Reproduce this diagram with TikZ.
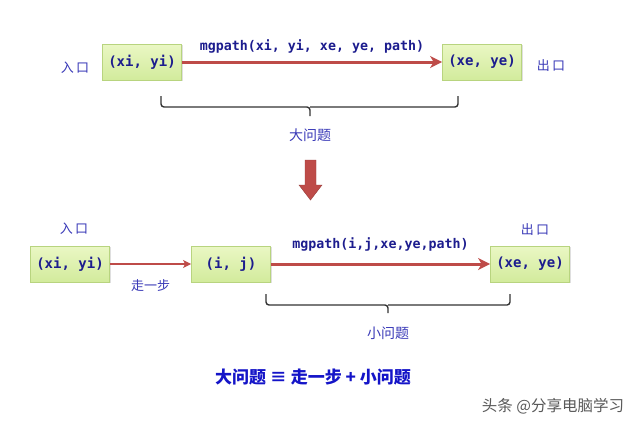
\documentclass[tikz,border=0pt]{standalone}
\usepackage{fontspec}
\setmonofont{DejaVu Sans Mono}
\newfontfamily\cjk{Noto Sans CJK SC}
\usetikzlibrary{arrows.meta,shadows}
\definecolor{boxtop}{HTML}{EAF7C4}
\definecolor{boxbot}{HTML}{D2EB9C}
\definecolor{boxedge}{HTML}{B8D47F}
\definecolor{boxtext}{HTML}{1C1C8E}
\definecolor{lblue}{HTML}{3A3AB8}
\definecolor{fblue}{HTML}{1414C8}
\definecolor{arrred}{HTML}{BE4B48}
\tikzset{
  x=1pt, y=-1pt,
  box/.style={draw=boxedge, line width=0.8pt, top color=boxtop, bottom color=boxbot,
    minimum width=79pt, minimum height=36pt, inner sep=0pt,
    font=\ttfamily\bfseries\fontsize{14}{14}\selectfont, text=boxtext,
    drop shadow={shadow xshift=1.2pt, shadow yshift=-1.2pt, opacity=0.25}},
  cnlabel/.style={font=\cjk\fontsize{13}{13}\selectfont, text=lblue},
  codelabel/.style={font=\ttfamily\bfseries\fontsize{13.3}{13.3}\selectfont, text=boxtext},
  bigarrow/.style={draw=arrred, line width=3pt, -{Stealth[length=12pt,width=12pt,inset=3.5pt]}},
  smallarrow/.style={draw=arrred, line width=1.3pt, -{Stealth[length=8pt,width=8pt,inset=2pt]}},
  bracket/.style={draw=black!80, line width=1.4pt, rounded corners=3pt},
}
\begin{document}
\begin{tikzpicture}
\useasboundingbox[fill=white] (0,0) rectangle (640,426);
% top row
\node[box] (a1) at (142,62) {(xi, yi)};
\node[box] (a2) at (482,62) {(xe, ye)};
\node[cnlabel] (in1) at (75,68) {入\,口};
\node[cnlabel] (out1) at (551,66) {出\,口};
\draw[bigarrow] (a1) -- (a2) node[midway, yshift=16pt, codelabel] (m1) {mgpath(xi, yi, xe, ye, path)};
\coordinate (b1l) at (161,96);
\coordinate (b1r) at (458,96);
\coordinate (b1m) at (310,107);
\coordinate (b1t) at (310,116);
\draw[bracket] (b1l) -- (161,107) -- (b1m) -- (b1t);
\draw[bracket] (b1m) -- (458,107) -- (b1r);
\node[cnlabel, font=\cjk\fontsize{14}{14}\selectfont] (big) at (310,135) {大问题};
% down arrow
\fill[arrred, draw=arrred!80!black, line width=0.4pt] (305,160) -- (316,160) -- (316,185) -- (322,185) -- (310.5,200) -- (299,185) -- (305,185) -- cycle;
% bottom row
\node[box] (b1) at (70,264) {(xi, yi)};
\node[box] (b2) at (231,264) {(i, j)};
\node[box] (b3) at (530,264) {(xe, ye)};
\node[cnlabel] (in2) at (74,229) {入\,口};
\node[cnlabel] (out2) at (535,230) {出\,口};
\draw[smallarrow] (b1) -- (b2) node[midway, yshift=-22pt, cnlabel] (step1) {走一步};
\draw[bigarrow] (b2) -- (b3) node[midway, yshift=20pt, codelabel] (m2) {mgpath(i,j,xe,ye,path)};
\coordinate (b2l) at (266,294);
\coordinate (b2r) at (510,294);
\coordinate (b2m) at (388,305);
\coordinate (b2t) at (388,313);
\draw[bracket] (b2l) -- (266,305) -- (b2m) -- (b2t);
\draw[bracket] (b2m) -- (510,305) -- (b2r);
\node[cnlabel, font=\cjk\fontsize{14}{14}\selectfont] (small) at (388,333) {小问题};
% formula
\node[font=\cjk\bfseries\fontsize{17}{17}\selectfont, text=fblue] (eq) at (313,377) {大问题 ≡ 走一步 + 小问题};
% watermark
\node[font=\cjk\fontsize{15.5}{15.5}\selectfont, text=black!65] (wm) at (553,406) {头条 @分享电脑学习};
\end{tikzpicture}
\end{document}
